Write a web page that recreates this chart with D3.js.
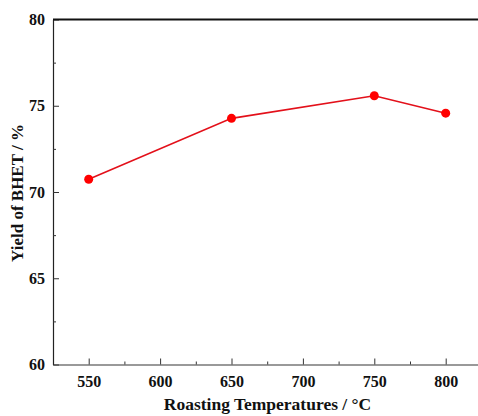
<!DOCTYPE html>
<html><head><meta charset="utf-8">
<script src="https://cdn.jsdelivr.net/npm/d3@7"></script>
<style>body{margin:0;background:#fff}svg{display:block}text{font-family:'Liberation Serif','Times New Roman',serif !important;font-weight:bold}</style>
</head><body>
<script>
const temps = [550, 650, 750, 800];
const yieldVals = [70.74, 74.27, 75.58, 74.57];
const xTicks = [550, 600, 650, 700, 750, 800];
const yTicks = [60, 65, 70, 75, 80];

const W = 478, H = 416;
const m = {left: 53, top: 19.5, bottom: 51.5};
const svg = d3.select("body").append("svg").attr("width", W).attr("height", H);
const x = d3.scaleLinear().domain([525, 825]).range([m.left, m.left + 300 * (357 / 250)]);
const y = d3.scaleLinear().domain([60, 80]).range([H - m.bottom, m.top]);

// bottom axis
const xa = svg.append("g").attr("transform", `translate(0,${y(60)})`)
  .call(d3.axisBottom(x).tickValues(xTicks).tickSizeInner(-6).tickSizeOuter(0).tickPadding(11).tickFormat(d3.format("d")));
xa.select(".domain").attr("stroke", "#777").attr("stroke-width", 1.5);
xa.selectAll(".tick line").attr("stroke", "#333");
xa.selectAll("text").style("font-size", "16px").attr("fill", "#111");
const xm = svg.append("g").attr("transform", `translate(0,${y(60)})`)
  .call(d3.axisBottom(x).tickValues(d3.range(575, 826, 50)).tickSizeInner(-3).tickSizeOuter(0).tickFormat(""));
xm.select(".domain").remove();
xm.selectAll(".tick line").attr("stroke", "#333");

// left axis
const ya = svg.append("g").attr("transform", `translate(${m.left},0)`)
  .call(d3.axisLeft(y).tickValues(yTicks).tickSizeInner(-6).tickSizeOuter(0).tickPadding(8).tickFormat(d3.format("d")));
ya.select(".domain").attr("stroke", "#222").attr("stroke-width", 1.2);
ya.selectAll(".tick line").attr("stroke", "#333");
ya.selectAll("text").style("font-size", "16px").attr("fill", "#111");
const ym = svg.append("g").attr("transform", `translate(${m.left},0)`)
  .call(d3.axisLeft(y).tickValues(d3.range(62.5, 80, 5)).tickSizeInner(-3).tickSizeOuter(0).tickFormat(""));
ym.select(".domain").remove();
ym.selectAll(".tick line").attr("stroke", "#333");

// top border
svg.append("line").attr("x1", m.left).attr("x2", W).attr("y1", y(80)).attr("y2", y(80))
  .attr("stroke", "#111").attr("stroke-width", 2);

// line + points
const pts = temps.map((t, i) => [t, yieldVals[i]]);
svg.append("path").datum(pts)
  .attr("d", d3.line().x(d => x(d[0])).y(d => y(d[1])))
  .attr("fill", "none").attr("stroke", "#e3101a").attr("stroke-width", 1.6);
svg.selectAll("circle.pt").data(pts).join("circle")
  .attr("cx", d => x(d[0])).attr("cy", d => y(d[1])).attr("r", 4.5).attr("fill", "#f00");

// titles
svg.append("text").attr("x", (162 + 373) / 2).attr("y", 410).attr("text-anchor", "middle")
  .style("font-size", "17.5px").attr("fill", "#111")
  .text("Roasting Temperatures / \u00B0C");
svg.append("text").attr("transform", `translate(23,193) rotate(-90)`)
  .attr("text-anchor", "middle")
  .style("font-size", "17px").attr("fill", "#111")
  .text("Yield of BHET / %");
</script>
</body></html>
